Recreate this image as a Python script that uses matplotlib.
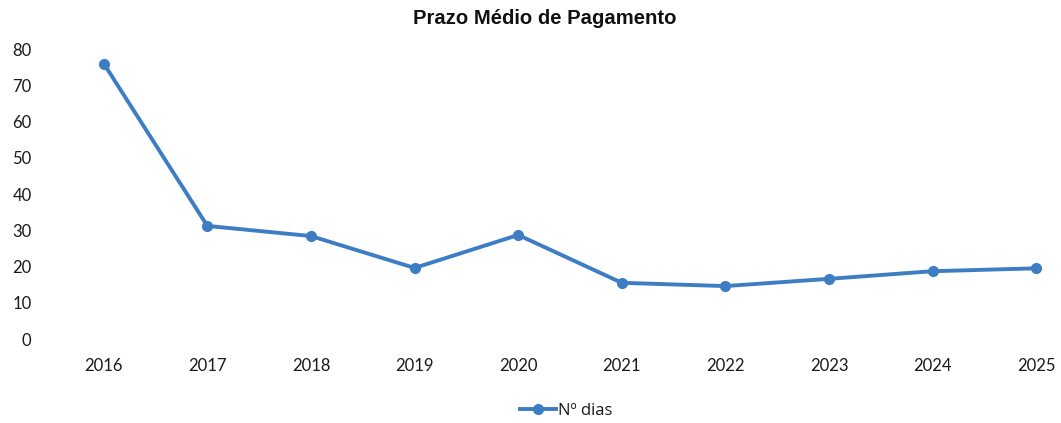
import matplotlib
matplotlib.use('Agg')
import matplotlib.pyplot as plt

# Prazo medio de pagamento (dias) por ano
anos = ['2016', '2017', '2018', '2019', '2020', '2021', '2022', '2023', '2024', '2025']
dias = [76, 31.2, 28.4, 19.6, 28.7, 15.5, 14.6, 16.6, 18.7, 19.5]

azul = '#3D7DC3'

fig = plt.figure(figsize=(10.61, 4.23), dpi=100)
ax = fig.add_axes([83 / 1061, (423 - 339) / 423, (1057 - 83) / 1061, (339 - 49) / 423])

x = list(range(len(anos)))
ax.plot(x, dias, color=azul, lw=2.8, marker='o', markersize=7, label='Nº dias')

ax.set_xlim(-0.2, len(anos) - 1 + 0.2)
ax.set_ylim(0, 80)
ax.set_yticks(range(0, 81, 10))
ax.set_xticks(x)
ax.set_xticklabels(anos)

for s in ax.spines.values():
    s.set_visible(False)
ax.tick_params(length=0, labelsize=12, colors='#1a1a1a')
ax.tick_params(axis='y', pad=37)
ax.tick_params(axis='x', pad=14)
for lab in ax.get_xticklabels() + ax.get_yticklabels():
    lab.set_family('Lato')

fig.text(545 / 1061, 1 - 19 / 423, 'Prazo Médio de Pagamento', ha='center', va='center',
         fontsize=14.6, fontweight='bold', family='Liberation Sans', color='#111111')

leg = fig.legend(loc='center', bbox_to_anchor=(566 / 1061, 1 - 411 / 423), frameon=False,
                 prop={'family': 'Open Sans', 'size': 12}, handlelength=2.2, handletextpad=0.1)
for t in leg.get_texts():
    t.set_color('#1a1a1a')

fig.savefig('out.png', dpi=100)
